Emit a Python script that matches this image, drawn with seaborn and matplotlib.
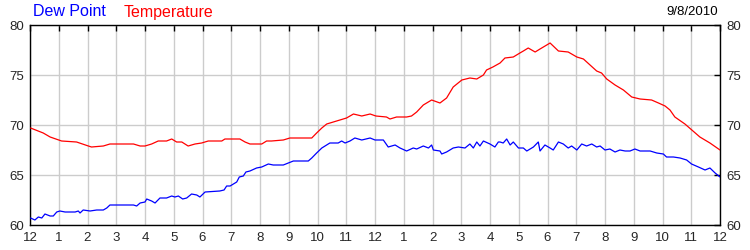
import matplotlib
matplotlib.use("Agg")
import matplotlib.pyplot as plt
import seaborn as sns
import pandas as pd

# Hours since midnight and readings (°F)
temp_hours = [0.02, 0.46, 0.70, 1.10, 1.62, 2.03, 2.14, 2.55, 2.78, 3.60, 3.83, 4.00, 4.23, 4.46,
              4.75, 4.93, 5.10, 5.28, 5.50, 5.74, 5.97, 6.20, 6.67, 6.78, 7.30, 7.48, 7.65, 8.06,
              8.23, 8.40, 8.81, 9.04, 9.80, 9.97, 10.15, 10.32, 11.01, 11.25, 11.54, 11.83, 12.03,
              12.40, 12.52, 12.75, 13.10, 13.27, 13.45, 13.68, 13.97, 14.26, 14.49, 14.72, 15.02,
              15.30, 15.54, 15.77, 15.88, 16.10, 16.35, 16.52, 16.81, 17.04, 17.16, 17.33, 17.57,
              17.74, 18.09, 18.38, 18.72, 19.02, 19.25, 19.48, 19.71, 19.88, 20.06, 20.35, 20.64,
              20.93, 21.22, 21.62, 21.86, 22.09, 22.26, 22.43, 22.78, 23.30, 23.65, 24.00]
temperature = [69.7, 69.2, 68.8, 68.4, 68.3, 67.9, 67.8, 67.9, 68.1, 68.1, 67.9, 67.9, 68.1, 68.4,
               68.4, 68.6, 68.3, 68.3, 67.9, 68.1, 68.2, 68.4, 68.4, 68.6, 68.6, 68.3, 68.1, 68.1,
               68.4, 68.4, 68.5, 68.7, 68.7, 69.2, 69.7, 70.1, 70.7, 71.1, 70.9, 71.1, 70.9,
               70.8, 70.6, 70.8, 70.8, 70.9, 71.3, 72.0, 72.5, 72.2, 72.7, 73.8, 74.5,
               74.7, 74.6, 75.0, 75.5, 75.8, 76.2, 76.7, 76.8, 77.2, 77.4, 77.7, 77.3,
               77.6, 78.2, 77.4, 77.3, 76.8, 76.6, 76.0, 75.4, 75.2, 74.6, 74.0, 73.5,
               72.8, 72.6, 72.5, 72.2, 71.9, 71.5, 70.8, 70.1, 68.8, 68.2, 67.5]

dew_hours = [0.02, 0.17, 0.29, 0.41, 0.52, 0.70, 0.81, 0.93, 1.04, 1.22, 1.57, 1.68, 1.74, 1.85,
             2.09, 2.32, 2.55, 2.67, 2.78, 3.60, 3.71, 3.83, 4.00, 4.06, 4.23, 4.35, 4.52, 4.75,
             4.93, 5.04, 5.16, 5.31, 5.45, 5.62, 5.80, 5.91, 6.09, 6.60, 6.75, 6.84, 6.96, 7.19,
             7.28, 7.42, 7.51, 7.65, 7.88, 8.06, 8.29, 8.46, 8.81, 8.99, 9.16, 9.68, 9.80, 9.97,
             10.15, 10.43, 10.72, 10.84, 10.96, 11.13, 11.30, 11.54, 11.83, 12.00, 12.29, 12.46,
             12.70, 12.87, 13.10, 13.33, 13.45, 13.68, 13.86, 13.97, 14.03, 14.26, 14.32, 14.49,
             14.72, 14.90, 15.13, 15.30, 15.42, 15.54, 15.65, 15.77, 16.00, 16.17, 16.29, 16.35,
             16.46, 16.58, 16.70, 16.81, 16.99, 17.16, 17.28, 17.51, 17.68, 17.74, 17.91, 18.09,
             18.20, 18.38, 18.55, 18.72, 18.84, 19.02, 19.19, 19.36, 19.54, 19.71, 19.83, 20.00,
             20.17, 20.35, 20.52, 20.70, 20.87, 21.04, 21.22, 21.57, 21.80, 22.03, 22.14, 22.38,
             22.61, 22.84, 23.01, 23.25, 23.48, 23.65, 23.83, 24.00]
dew_point = [60.7, 60.5, 60.8, 60.7, 61.1, 60.9, 60.9, 61.3, 61.4, 61.3, 61.3, 61.4, 61.2, 61.5,
             61.4, 61.5, 61.5, 61.7, 62.0, 62.0, 61.9, 62.2, 62.3, 62.6, 62.4, 62.2, 62.7, 62.7,
             62.9, 62.8, 62.9, 62.6, 62.7, 63.1, 63.0, 62.8, 63.3, 63.4, 63.5, 63.9, 63.9, 64.3,
             64.8, 64.9, 65.3, 65.4, 65.7, 65.8, 66.1, 66.0, 66.0, 66.2, 66.4, 66.4, 66.7, 67.2,
             67.7, 68.2, 68.2, 68.4, 68.2, 68.4, 68.7, 68.5, 68.7, 68.5, 68.5, 67.8,
             68.0, 67.7, 67.4, 67.7, 67.6, 67.9, 67.7, 68.0, 67.5, 67.4, 67.1, 67.3,
             67.7, 67.8, 67.7, 68.1, 67.7, 68.3, 67.9, 68.4, 68.1, 67.8, 68.3, 68.3,
             68.2, 68.6, 68.0, 68.3, 67.7, 67.7, 67.4, 67.8, 68.3, 67.4, 68.0, 67.7,
             67.5, 68.3, 68.1, 67.7, 67.9, 67.5, 68.1, 67.9, 68.1, 67.8, 67.9, 67.5,
             67.6, 67.3, 67.5, 67.4, 67.4, 67.6, 67.4, 67.4, 67.2, 67.1, 66.8, 66.8,
             66.7, 66.5, 66.1, 65.8, 65.5, 65.7, 65.2, 64.8]

tick_hours = list(range(25))
tick_labels = ["12", "1", "2", "3", "4", "5", "6", "7", "8", "9", "10", "11",
               "12", "1", "2", "3", "4", "5", "6", "7", "8", "9", "10", "11", "12"]
y_ticks = [60, 65, 70, 75, 80]

sns.set_style("white")
plt.rcParams["font.family"] = ["Liberation Sans", "DejaVu Sans"]

fig = plt.figure(figsize=(7.5, 2.5), dpi=100)
ax = fig.add_axes([30 / 750, 25 / 250, 690 / 750, 200 / 250])

df_t = pd.DataFrame({"hour": temp_hours, "value": temperature})
df_d = pd.DataFrame({"hour": dew_hours, "value": dew_point})
sns.lineplot(data=df_t, x="hour", y="value", ax=ax, color="#ff0000", linewidth=0.9, zorder=3)
sns.lineplot(data=df_d, x="hour", y="value", ax=ax, color="#0000ff", linewidth=0.9, zorder=3)

ax.set_xlim(0, 24)
ax.set_ylim(60, 80)
ax.set_xticks(tick_hours)
ax.set_xticklabels(tick_labels)
ax.set_yticks(y_ticks)
ax.set_xlabel("")
ax.set_ylabel("")
ax.grid(True, color="#cccccc", linewidth=1.0, zorder=0)
ax.set_axisbelow(True)
for s in ax.spines.values():
    s.set_color("black")
    s.set_linewidth(1.0)
ax.tick_params(axis="both", direction="in", length=4, width=1, color="black",
               labelsize=9.5, top=True, right=True, labelright=True)
ax.tick_params(axis="y", pad=4.5)
ax.tick_params(axis="x", pad=5)

fig.text(33 / 750, 1 - 12 / 250, "Dew Point", color="#0000ff", fontsize=11.5,
         ha="left", va="center")
fig.text(124 / 750, 1 - 12 / 250, "Temperature", color="#ff0000", fontsize=11.5,
         ha="left", va="center")
fig.text(718 / 750, 1 - 12 / 250, "9/8/2010", color="black", fontsize=9.5,
         ha="right", va="center")

fig.savefig("out.png", dpi=100)
